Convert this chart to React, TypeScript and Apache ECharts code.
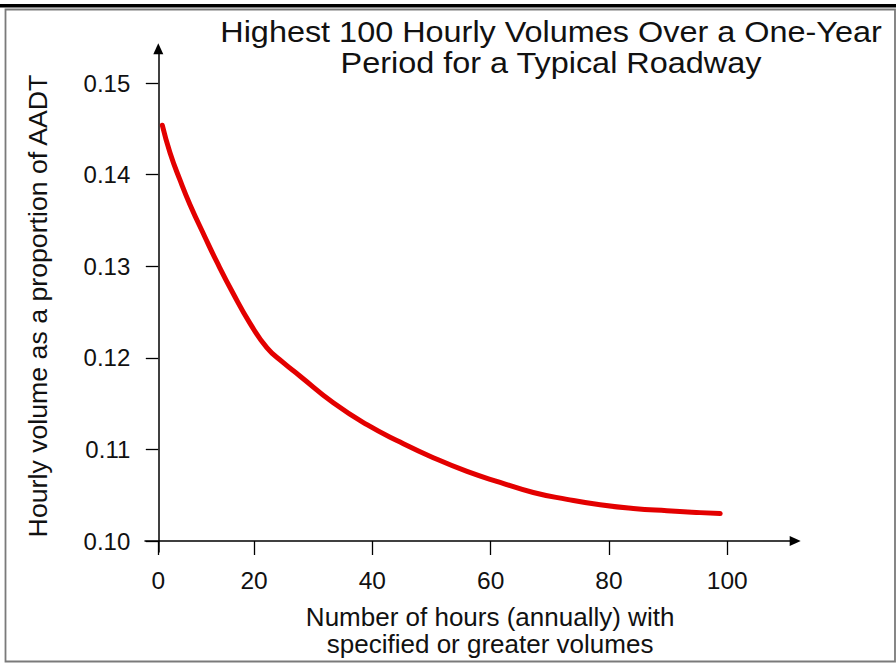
import React, { useEffect, useRef } from "react";
import * as echarts from "echarts";

const TITLE_LINES = ["Highest 100 Hourly Volumes Over a One-Year", "Period for a Typical Roadway"];
const X_NAME_LINES = ["Number of hours (annually) with", "specified or greater volumes"];
const Y_NAME = "Hourly volume as a proportion of AADT";

// (x in the scale given by the 20..100 ticks)
const hours = [4.5, 5.8, 7.5, 9.2, 11.7, 13.7, 16.5, 19.3, 22.2, 24.9, 27.8, 33.4, 39.1, 44.7, 50.3, 56.0, 61.6, 67.2, 72.9, 78.5, 84.1, 89.8, 95.4, 98.8];
const volumes = [0.1454, 0.1424, 0.1394, 0.1367, 0.1332, 0.1305, 0.127, 0.1238, 0.1211, 0.1195, 0.118, 0.1151, 0.1127, 0.1108, 0.1091, 0.1076, 0.1064, 0.1053, 0.10455, 0.10395, 0.10355, 0.1033, 0.1031, 0.103];

const xTickValues = [3.82, 20, 40, 60, 80, 100];
const xTickLabels = ["0", "20", "40", "60", "80", "100"];
const yTickValues = [0.1, 0.11, 0.12, 0.13, 0.14, 0.15];
const yTickLabels = ["0.10", "0.11", "0.12", "0.13", "0.14", "0.15"];

const FONT = "'Liberation Sans', Arial, Helvetica, sans-serif";

export default function App() {
  const ref = useRef<HTMLDivElement>(null);
  useEffect(() => {
    if (!ref.current) return;
    const chart = echarts.init(ref.current, null, { renderer: "svg" });
    const nearestIdx = (vals: number[], v: number) => {
      let bi = 0;
      let bd = Infinity;
      vals.forEach((x, i) => {
        const d = Math.abs(x - v);
        if (d < bd) { bd = d; bi = i; }
      });
      return bi;
    };
    chart.setOption({
      animation: false,
      backgroundColor: "#ffffff",
      textStyle: { fontFamily: FONT },
      grid: { left: 145, right: 100.8, top: 48.8, bottom: 110.3, containLabel: false },
      graphic: [
        { type: "rect", shape: { x: 0, y: 4, width: 896, height: 3.5 }, style: { fill: "#000" } },
        { type: "rect", shape: { x: 5.5, y: 9.5, width: 889.5, height: 652 }, style: { fill: "none", stroke: "#7a7a7a", lineWidth: 1.8 } },
        {
          type: "text",
          x: 551,
          y: 47.5,
          scaleX: 1.08,
          style: {
            text: TITLE_LINES.join("\n"),
            fontSize: 30,
            fontFamily: FONT,
            lineHeight: 30.5,
            fill: "#111",
            align: "center",
            verticalAlign: "middle",
          },
        },
        {
          type: "text",
          x: 38,
          y: 306,
          rotation: Math.PI / 2,
          style: {
            text: Y_NAME,
            fontSize: 26.7,
            fontFamily: FONT,
            fill: "#111",
            align: "center",
            verticalAlign: "middle",
          },
        },
      ],
      xAxis: {
        type: "value",
        min: 1.572,
        max: 111.48,
        offset: -11,
        name: X_NAME_LINES.join("\n"),
        nameLocation: "middle",
        nameGap: 62,
        nameTextStyle: { fontSize: 26, lineHeight: 27.5, color: "#111", fontFamily: FONT, padding: [0, 0, 0, 40], verticalAlign: "top" },
        axisLine: { show: true, onZero: false, symbol: ["none", "triangle"], symbolSize: [10, 11], lineStyle: { color: "#000", width: 1.5 } },
        axisTick: { show: true, length: 14, customValues: xTickValues, lineStyle: { color: "#000", width: 1.3 } },
        axisLabel: {
          show: true,
          customValues: xTickValues,
          margin: 27,
          fontSize: 24.5,
          color: "#111",
          fontFamily: FONT,
          formatter: (v: number) => xTickLabels[nearestIdx(xTickValues, v)],
        },
        splitLine: { show: false },
      },
      yAxis: {
        type: "value",
        min: 0.0988,
        max: 0.15375,
        offset: -13.3,
        axisLine: { show: true, onZero: false, symbol: ["none", "triangle"], symbolSize: [10, 11], lineStyle: { color: "#000", width: 1.5 } },
        axisTick: { show: true, length: 12.5, customValues: yTickValues, lineStyle: { color: "#000", width: 1.3 } },
        axisLabel: {
          show: true,
          customValues: yTickValues,
          margin: 28,
          fontSize: 24,
          color: "#111",
          fontFamily: FONT,
          padding: [5, 0, 0, 0],
          formatter: (v: number) => yTickLabels[nearestIdx(yTickValues, v)],
        },
        splitLine: { show: false },
      },
      series: [
        {
          type: "line",
          data: hours.map((h, i) => [h, volumes[i]]),
          showSymbol: false,
          smooth: 0.5,
          lineStyle: { color: "#e30000", width: 5, cap: "round", join: "round" },
          silent: true,
        },
      ],
    });
    return () => chart.dispose();
  }, []);
  return <div ref={ref} style={{ position: "absolute", left: 0, top: 0, width: 896, height: 663 }} />;
}
